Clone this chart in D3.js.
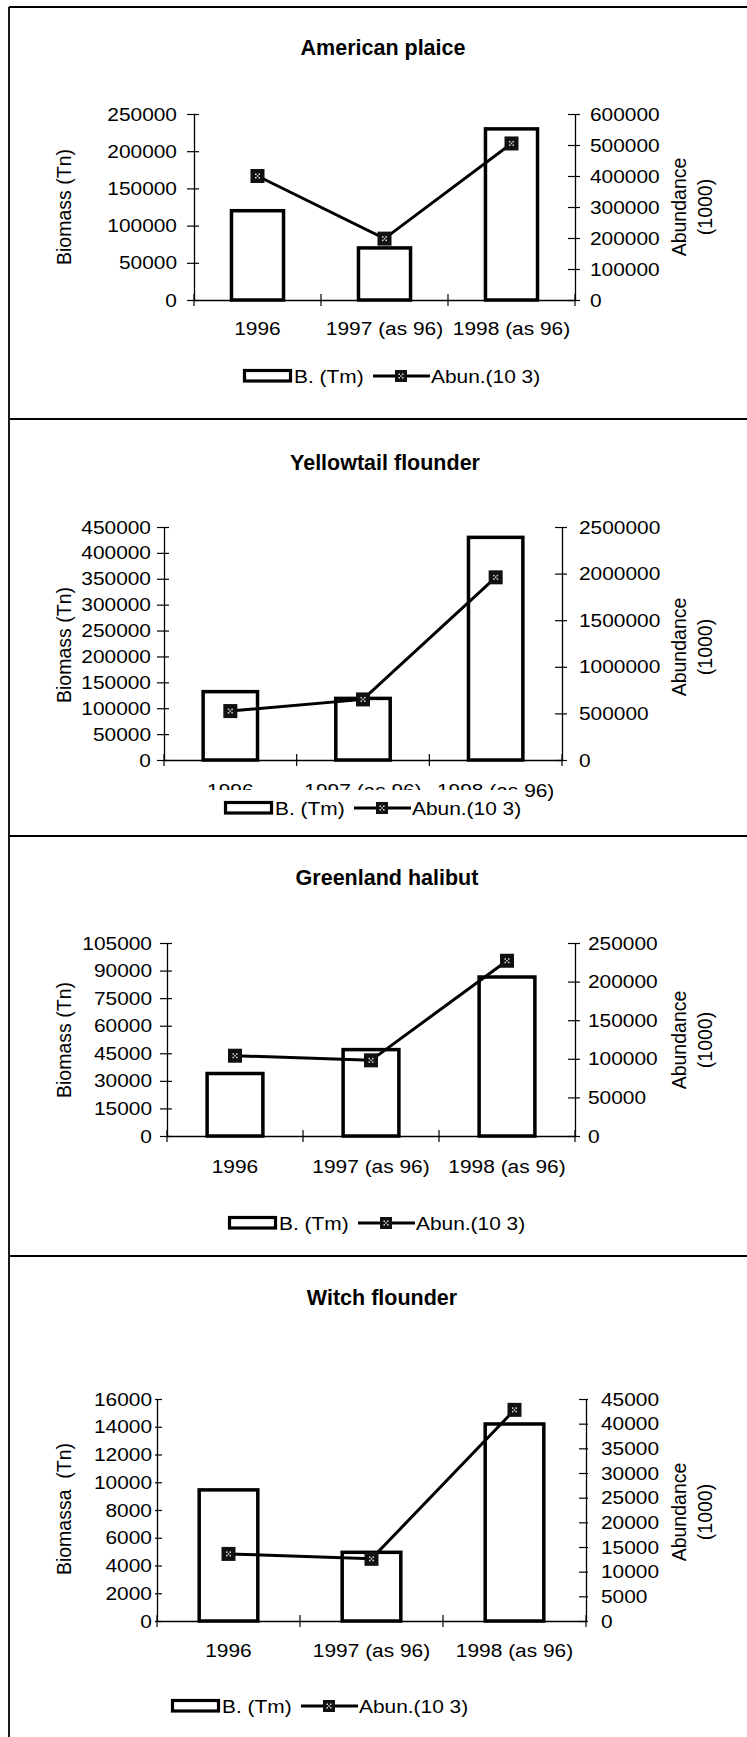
<!DOCTYPE html>
<html>
<head>
<meta charset="utf-8">
<script src="https://cdn.jsdelivr.net/npm/d3@7"></script>
<style>
  html, body { margin: 0; padding: 0; background: #fff; }
  svg { display: block; }
  text { font-family: "Liberation Sans", Arial, sans-serif; fill: #000; }
</style>
</head>
<body>
<svg id="chart" width="747" height="1737"></svg>
<script>
// ---------- data ----------
const categories = ["1996", "1997 (as 96)", "1998 (as 96)"];

const plaiceBiomass = [120000, 70000, 230000];
const plaiceAbundance = [400000, 198000, 505000];
const plaiceLeftTicks = [0, 50000, 100000, 150000, 200000, 250000];
const plaiceRightTicks = [0, 100000, 200000, 300000, 400000, 500000, 600000];

const yellowtailBiomass = [132000, 119000, 430000];
const yellowtailAbundance = [525000, 650000, 1960000];
const yellowtailLeftTicks = [0, 50000, 100000, 150000, 200000, 250000, 300000, 350000, 400000, 450000];
const yellowtailRightTicks = [0, 500000, 1000000, 1500000, 2000000, 2500000];

const halibutBiomass = [34000, 47000, 86500];
const halibutAbundance = [104000, 98000, 227000];
const halibutLeftTicks = [0, 15000, 30000, 45000, 60000, 75000, 90000, 105000];
const halibutRightTicks = [0, 50000, 100000, 150000, 200000, 250000];

const witchBiomass = [9450, 4950, 14200];
const witchAbundance = [13600, 12600, 42800];
const witchLeftTicks = [0, 2000, 4000, 6000, 8000, 10000, 12000, 14000, 16000];
const witchRightTicks = [0, 5000, 10000, 15000, 20000, 25000, 30000, 35000, 40000, 45000];

const titles = ["American plaice", "Yellowtail flounder", "Greenland halibut", "Witch flounder"];
const leftLabels = ["Biomass (Tn)", "Biomass (Tn)", "Biomass (Tn)", "Biomassa\u00a0\u00a0(Tn)"];
const rightLabel1 = "Abundance";
const rightLabel2 = "(1000)";
const legendBar = "B. (Tm)";
const legendLine = "Abun.(10 3)";

// ---------- layout ----------
const SX = 1.1;      // horizontal stretch of the scanned text
const FS = 19;       // axis / legend font size
const panels = [
  { title: titles[0], ylab: leftLabels[0], bio: plaiceBiomass, ab: plaiceAbundance, lt: plaiceLeftTicks, rt: plaiceRightTicks,
    left: 194, right: 575, top: 114, bottom: 300, titleX: 383, titleY: 55, catY: 335,
    legX: 243, legY: 383, lgap: 17, rgap: 15, tickL: 7, tickR: 5, yLabC: 207, yRabC: 207 },
  { title: titles[1], ylab: leftLabels[1], bio: yellowtailBiomass, ab: yellowtailAbundance, lt: yellowtailLeftTicks, rt: yellowtailRightTicks,
    left: 164, right: 562, top: 527, bottom: 760, titleX: 385, titleY: 470, catY: 797,
    legX: 224, legY: 815, lgap: 13, rgap: 17, tickL: 7, tickR: 5, yLabC: 645, yRabC: 647,
    legBg: [200, 790, 322, 32] },
  { title: titles[2], ylab: leftLabels[2], bio: halibutBiomass, ab: halibutAbundance, lt: halibutLeftTicks, rt: halibutRightTicks,
    left: 167, right: 575, top: 943, bottom: 1136, titleX: 387, titleY: 885, catY: 1173,
    legX: 228, legY: 1230, lgap: 15, rgap: 13, tickL: 7, tickR: 5, yLabC: 1040, yRabC: 1040 },
  { title: titles[3], ylab: leftLabels[3], bio: witchBiomass, ab: witchAbundance, lt: witchLeftTicks, rt: witchRightTicks,
    left: 157, right: 586, top: 1399, bottom: 1621, titleX: 382, titleY: 1305, catY: 1657,
    legX: 171, legY: 1713, lgap: 5, rgap: 15, tickL: 2, tickR: 2, yLabC: 1509, yRabC: 1512 }
];

const svg = d3.select("#chart");
svg.append("rect").attr("width", 747).attr("height", 1737).attr("fill", "#fff");

// frame
const frame = svg.append("g").attr("stroke", "#000").attr("stroke-width", 1.8);
frame.append("line").attr("x1", 9).attr("x2", 9).attr("y1", 7).attr("y2", 1737);
[7, 419, 836, 1256].forEach(y => frame.append("line").attr("x1", 9).attr("x2", 747).attr("y1", y).attr("y2", y));

function marker(g, cx, cy, s) {
  const m = g.append("g").attr("transform", `translate(${cx},${cy})`);
  m.append("rect").attr("x", -s / 2).attr("y", -s / 2).attr("width", s).attr("height", s).attr("fill", "#111");
  [[-2.5, -2.5], [1, -2.5], [-2.5, 1], [1, 1], [-0.75, -0.75]].forEach(([dx, dy]) =>
    m.append("rect").attr("x", dx).attr("y", dy).attr("width", 1.5).attr("height", 1.5).attr("fill", "#ddd"));
}

function stretchedText(g, x, y, str, anchor) {
  return g.append("text")
    .attr("transform", `translate(${x},${y}) scale(${SX},1)`)
    .attr("text-anchor", anchor || "start")
    .attr("font-size", FS)
    .text(str);
}

const BW = 0.41;

panels.forEach(p => {
  const g = svg.append("g");
  const x = d3.scaleBand().domain(categories).range([p.left, p.right]).padding(0);
  const yL = d3.scaleLinear().domain([0, d3.max(p.lt)]).range([p.bottom, p.top]);
  const yR = d3.scaleLinear().domain([0, d3.max(p.rt)]).range([p.bottom, p.top]);

  // title
  g.append("text").attr("x", p.titleX).attr("y", p.titleY).attr("text-anchor", "middle")
    .attr("font-size", 21.5).attr("font-weight", "bold").text(p.title);

  // bars
  g.selectAll("rect.bar").data(p.bio).join("rect").attr("class", "bar")
    .attr("x", (d, i) => x(categories[i]) + x.bandwidth() * (1 - BW) / 2)
    .attr("y", d => yL(d))
    .attr("width", x.bandwidth() * BW)
    .attr("height", d => yL(0) - yL(d))
    .attr("fill", "#fff").attr("stroke", "#000").attr("stroke-width", 3.5);

  // left axis
  const la = g.append("g").attr("transform", `translate(${p.left},0)`)
    .call(d3.axisLeft(yL).tickValues(p.lt).tickSizeOuter(0).tickFormat(d3.format("d")));
  la.attr("font-size", null).attr("font-family", null);
  la.select(".domain").attr("stroke-width", 1.3);
  la.selectAll(".tick line").attr("x1", -p.tickL).attr("x2", 5).attr("stroke-width", 1.2);
  la.selectAll(".tick text").attr("x", 0).attr("transform", `translate(${-p.lgap},0) scale(${SX},1)`)
    .attr("font-size", FS).attr("fill", "#000");

  // right axis
  const ra = g.append("g").attr("transform", `translate(${p.right},0)`)
    .call(d3.axisRight(yR).tickValues(p.rt).tickSizeOuter(0).tickFormat(d3.format("d")));
  ra.attr("font-size", null).attr("font-family", null);
  ra.select(".domain").attr("stroke-width", 1.3);
  ra.selectAll(".tick line").attr("x1", -7).attr("x2", p.tickR).attr("stroke-width", 1.2);
  ra.selectAll(".tick text").attr("x", 0).attr("transform", `translate(${p.rgap},0) scale(${SX},1)`)
    .attr("font-size", FS).attr("fill", "#000");

  // category axis
  const ca = g.append("g").attr("transform", `translate(0,${p.bottom})`)
    .call(d3.axisBottom(x).tickSize(0).tickSizeOuter(0));
  ca.attr("font-size", null).attr("font-family", null);
  ca.select(".domain").attr("stroke-width", 1.5);
  ca.selectAll(".tick text").attr("y", 0).attr("dy", null)
    .attr("transform", `translate(0,${p.catY - p.bottom}) scale(${SX},1)`)
    .attr("font-size", FS).attr("fill", "#000");
  const bounds = categories.map(c => x(c)).concat([x(categories[2]) + x.bandwidth()]);
  g.selectAll("line.ctick").data(bounds).join("line").attr("class", "ctick")
    .attr("x1", d => d).attr("x2", d => d)
    .attr("y1", p.bottom - 6).attr("y2", p.bottom + 6)
    .attr("stroke", "#000").attr("stroke-width", 1.2);

  // abundance line
  const line = d3.line().x((d, i) => x(categories[i]) + x.bandwidth() / 2).y(d => yR(d));
  g.append("path").datum(p.ab).attr("d", line).attr("fill", "none")
    .attr("stroke", "#000").attr("stroke-width", 3);
  p.ab.forEach((d, i) => marker(g, x(categories[i]) + x.bandwidth() / 2, yR(d), 14));

  // axis titles
  g.append("text").attr("transform", `translate(71,${p.yLabC}) rotate(-90)`)
    .attr("text-anchor", "middle").attr("font-size", 19.5).text(p.ylab);
  g.append("text").attr("transform", `translate(686,${p.yRabC}) rotate(-90)`)
    .attr("text-anchor", "middle").attr("font-size", 19.5).text(rightLabel1);
  g.append("text").attr("transform", `translate(712,${p.yRabC}) rotate(-90)`)
    .attr("text-anchor", "middle").attr("font-size", 19.5).text(rightLabel2);

  // legend
  const lg = g.append("g");
  if (p.legBg) {
    lg.append("rect").attr("x", p.legBg[0]).attr("y", p.legBg[1]).attr("width", p.legBg[2]).attr("height", p.legBg[3]).attr("fill", "#fff");
  }
  const L = p.legX, B = p.legY;
  lg.append("rect").attr("x", L + 1.5).attr("y", B - 12.5).attr("width", 46).attr("height", 10.5)
    .attr("fill", "#fff").attr("stroke", "#000").attr("stroke-width", 3.2);
  stretchedText(lg, L + 51, B, legendBar);
  lg.append("line").attr("x1", L + 130).attr("x2", L + 187).attr("y1", B - 7).attr("y2", B - 7)
    .attr("stroke", "#000").attr("stroke-width", 3);
  marker(lg, L + 158, B - 7, 12);
  stretchedText(lg, L + 188, B, legendLine);
});
</script>
</body>
</html>
